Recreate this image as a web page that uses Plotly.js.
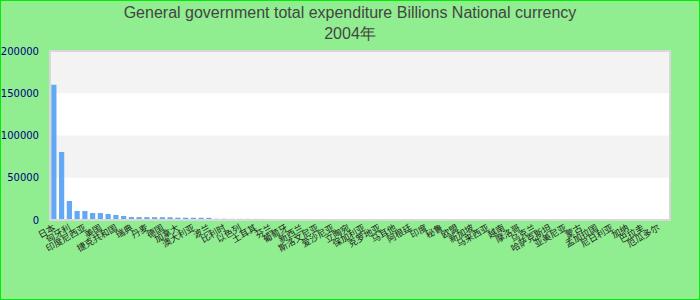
<!DOCTYPE html>
<html>
<head>
<meta charset="utf-8">
<script src="https://cdn.plot.ly/plotly-3.0.1.min.js"></script>
<style>
  html, body { margin: 0; padding: 0; background: #90ee90; }
  #chart { width: 698px; height: 298px; border: 1px solid #00ee00; }
</style>
</head>
<body>
<div id="chart"></div>
<script>
const titleText = "General government total expenditure Billions National currency";
const yearText = "2004年";

const countries = [
  "日本", "哥伦比亚", "匈牙利", "智利", "印度尼西亚", "墨西哥", "美国", "冰岛",
  "捷克共和国", "英国", "瑞典", "挪威", "丹麦", "法国", "德国", "意大利",
  "加拿大", "西班牙", "澳大利亚", "荷兰", "波兰", "瑞士", "比利时", "奥地利",
  "以色列", "南非", "土耳其", "巴西", "芬兰", "希腊", "葡萄牙", "爱尔兰",
  "新西兰", "斯洛伐克", "斯洛文尼亚", "卢森堡", "爱沙尼亚", "拉脱维亚", "立陶宛", "哥斯达黎加",
  "保加利亚", "罗马尼亚", "克罗地亚", "塞浦路斯", "马耳他", "俄罗斯", "阿根廷", "中国",
  "印度", "沙特阿拉伯", "秘鲁", "欧元区", "欧盟", "经合组织", "新加坡", "泰国",
  "马来西亚", "菲律宾", "越南", "埃及", "摩洛哥", "突尼斯", "乌克兰", "白俄罗斯",
  "哈萨克斯坦", "格鲁吉亚", "亚美尼亚", "阿塞拜疆", "蒙古", "巴基斯坦", "孟加拉国", "斯里兰卡",
  "尼日利亚", "肯尼亚", "加纳", "乌拉圭", "巴拉圭", "玻利维亚", "厄瓜多尔", "委内瑞拉"
];

const expenditure = [
  160000, 80500, 22500, 10700, 10600, 8300, 8200, 7100,
  5900, 4700, 3500, 3450, 3400, 3350, 3300, 3250,
  2800, 2750, 2700, 2650, 2600, 1500, 1450, 1400,
  1400, 1350, 1300, 1300, 1250, 1200, 1200, 1150,
  900, 880, 850, 820, 800, 780, 750, 720,
  700, 680, 650, 620, 600, 560, 520, null,
  null, null, null, null, null, null, null, null,
  null, null, null, null, null, null, null, null,
  null, null, null, null, null, null, null, null,
  null, null, null, null, null, null, null, null
];

const yTicks = [0, 50000, 100000, 150000, 200000];

const trace = {
  type: "bar",
  x: countries,
  y: expenditure,
  marker: { color: "#63a8f4" },
  hoverinfo: "x+y"
};

const bandShapes = [
  [50000, 100000], [150000, 200000]
].map(b => ({
  type: "rect", xref: "paper", yref: "y", x0: 0, x1: 1, y0: b[0], y1: b[1],
  fillcolor: "#f3f3f3", line: { width: 0 }, layer: "below"
}));

const layout = {
  width: 698,
  height: 298,
  margin: { l: 49, r: 29, t: 50, b: 79, pad: 0 },
  paper_bgcolor: "#90ee90",
  plot_bgcolor: "#ffffff",
  bargap: 0.33,
  showlegend: false,
  title: {
    text: titleText + "<br>" + yearText,
    font: { family: "Liberation Sans, Arial, sans-serif", size: 16, color: "#444444" },
    x: 0.5, xanchor: "center",
    yref: "container",
    y: 0.942, yanchor: "top"
  },
  xaxis: {
    type: "category",
    tickangle: -30,
    tickfont: { family: "Noto Sans CJK SC, sans-serif", size: 9, color: "#222222" },
    showgrid: false,
    zeroline: false,
    showline: false,
    automargin: false,
    range: [-0.5, countries.length - 0.5]
  },
  yaxis: {
    range: [0, 200000],
    tickvals: yTicks,
    ticktext: yTicks.map(String),
    tickfont: { family: "DejaVu Sans, sans-serif", size: 10, color: "#000080" },
    showgrid: false,
    zeroline: false,
    showline: false,
    ticklabelstandoff: 10,
    automargin: false
  },
  shapes: bandShapes.concat([{
    type: "rect", xref: "paper", yref: "paper", x0: 0, x1: 1, y0: 0, y1: 1,
    line: { color: "#d8d8d8", width: 2 }, fillcolor: "rgba(0,0,0,0)", layer: "above"
  }])
};

Plotly.newPlot("chart", [trace], layout, { displayModeBar: false, staticPlot: true });
</script>
</body>
</html>
